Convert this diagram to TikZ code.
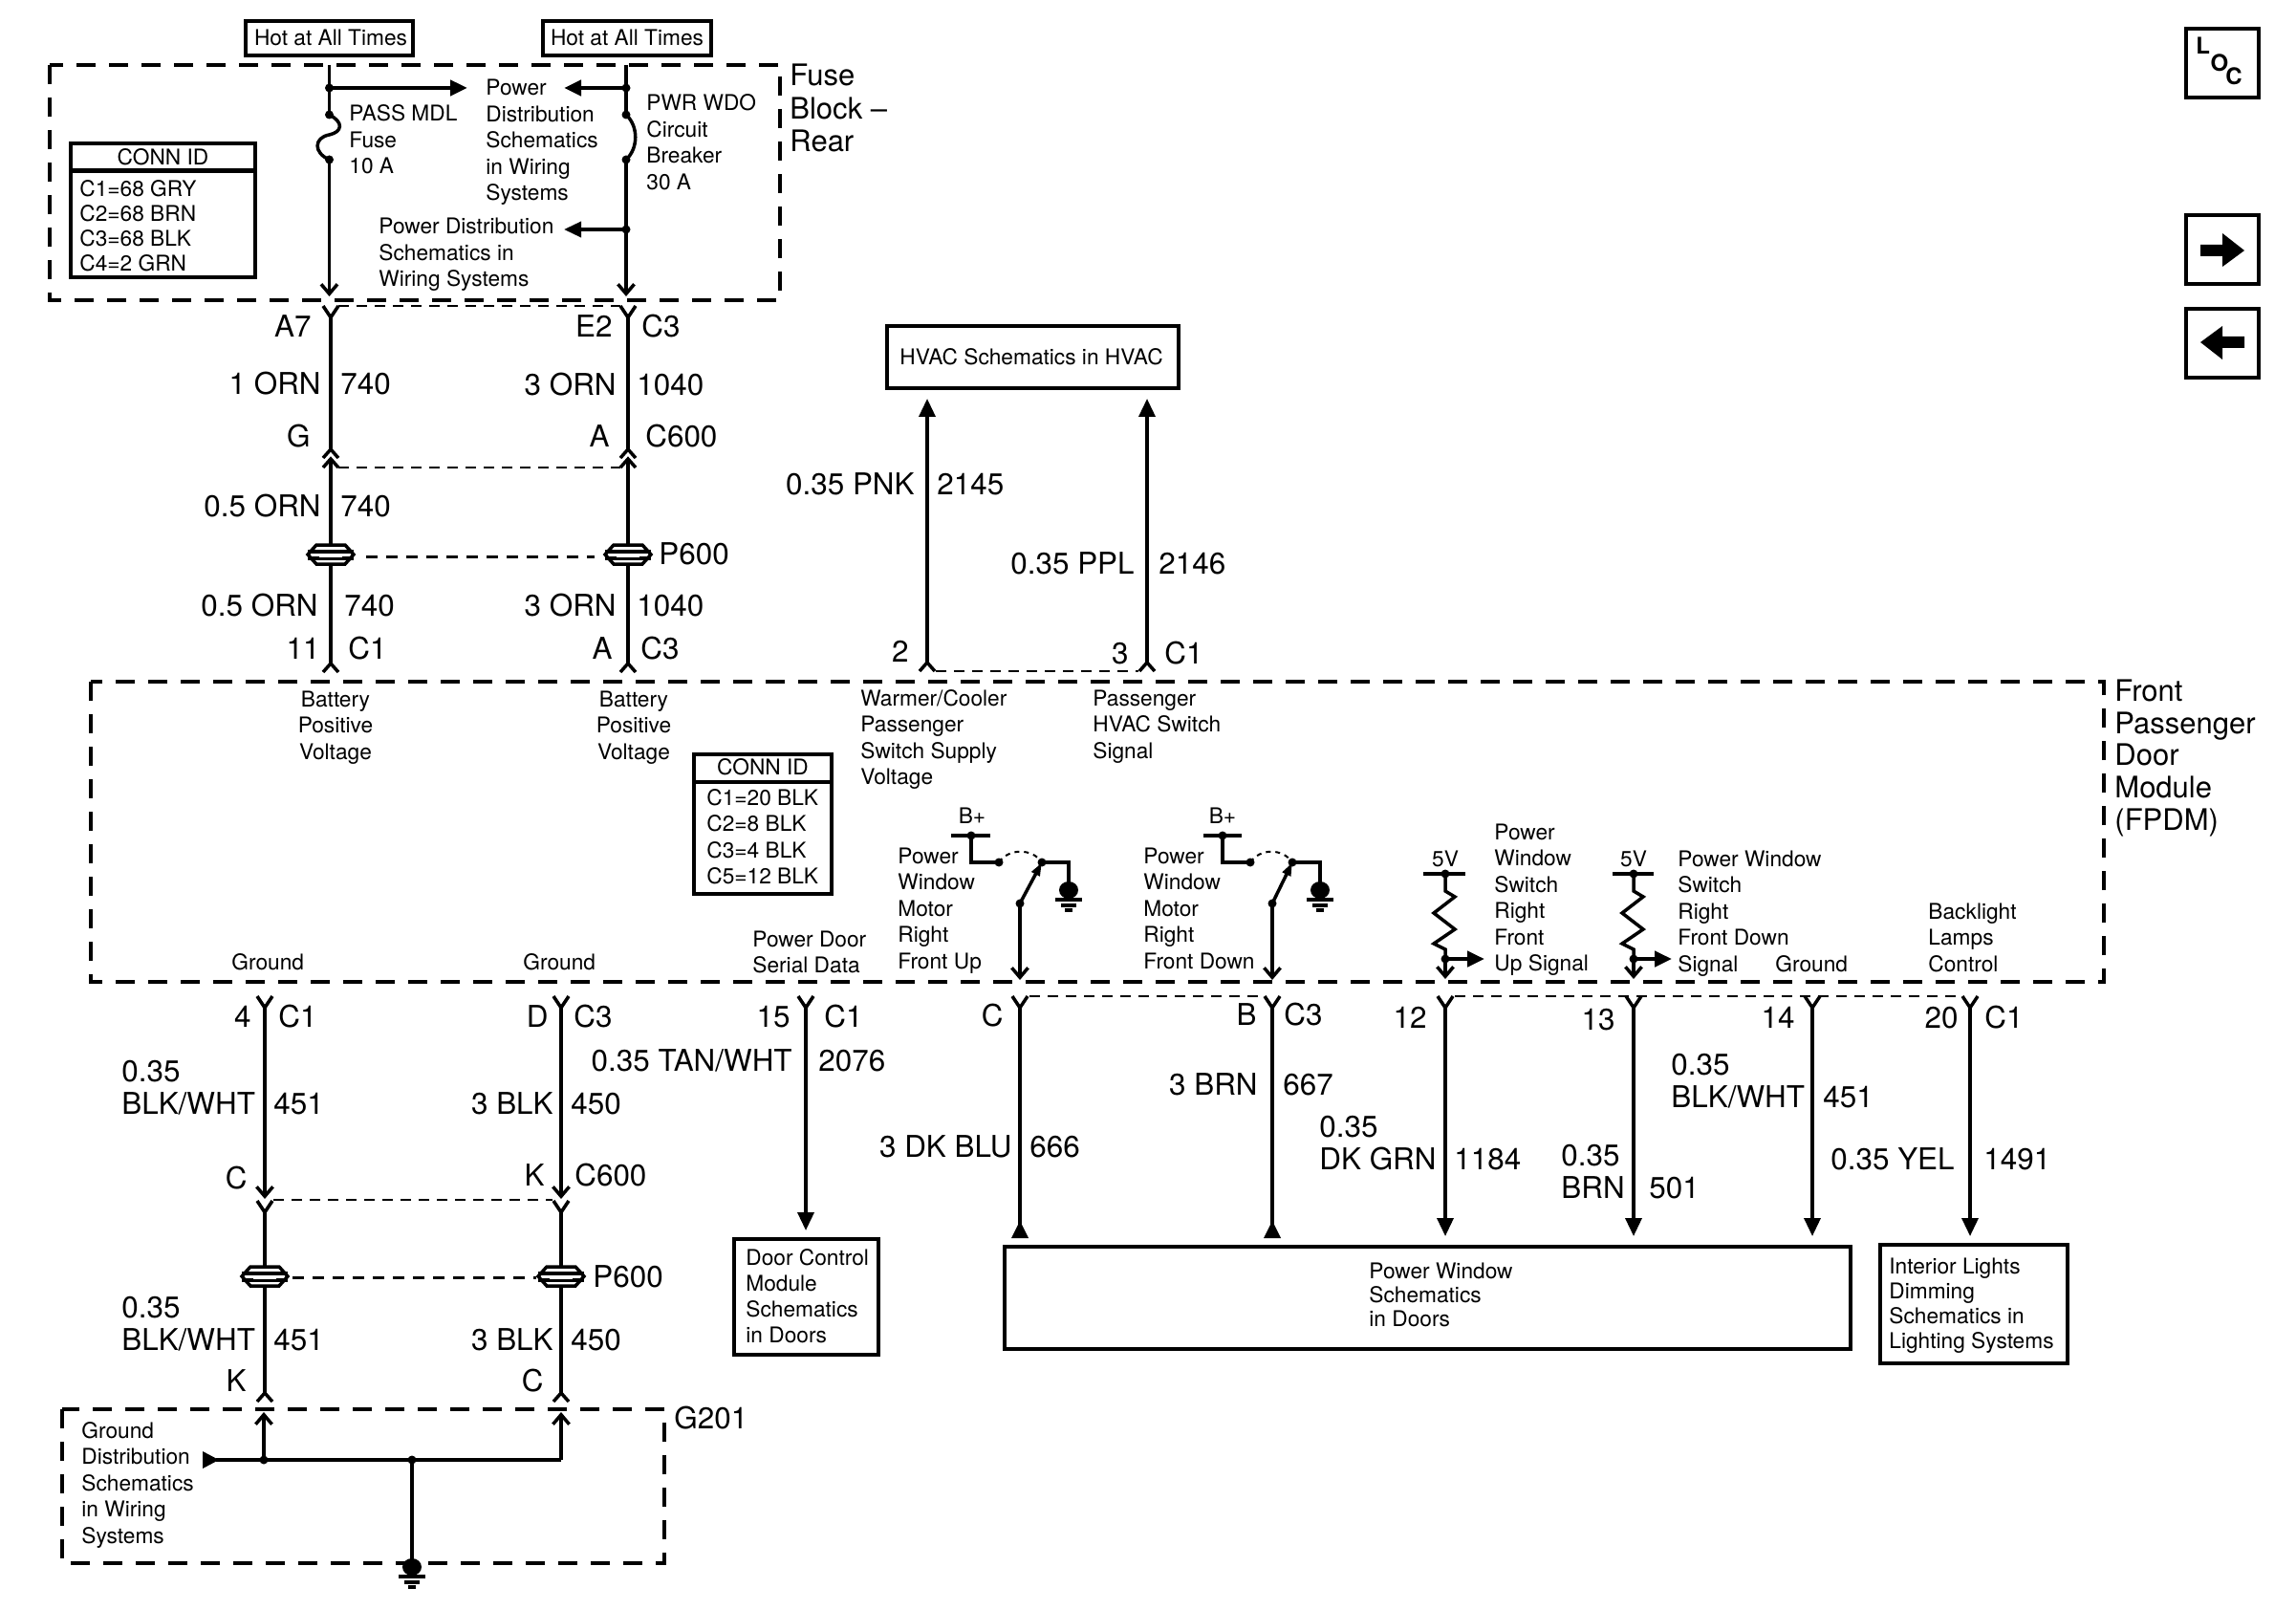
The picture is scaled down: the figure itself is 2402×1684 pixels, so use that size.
\documentclass[tikz,border=0pt]{standalone}
\usepackage{fontspec}
\setmainfont{TeX Gyre Heros}
\usetikzlibrary{arrows.meta}
\newcommand\LL[1]{\begin{tabular}[t]{@{}l@{}}#1\end{tabular}}
\newcommand\CC[1]{\begin{tabular}[t]{@{}c@{}}#1\end{tabular}}
\tikzset{
  x=0.5pt,y=-0.5pt,
  wire/.style={line width=1.75pt,line join=miter},
  wireb/.style={line width=2.25pt},
  box/.style={line width=2.25pt,draw=black},
  module/.style={line width=2.4pt,dash pattern=on 10pt off 7pt},
  link/.style={line width=1.1pt,dash pattern=on 5.5pt off 4pt},
  plink/.style={line width=1.5pt,dash pattern=on 6pt off 4.5pt},
  arc/.style={line width=1pt,dash pattern=on 2.5pt off 2.5pt},
  sm/.style={inner sep=0pt,font=\fontsize{11.35}{13.75}\selectfont,anchor=base west},
  smc/.style={sm,anchor=base},
  smt/.style={inner sep=0pt,font=\fontsize{11.35}{12.6}\selectfont,anchor=base west},
  lg/.style={inner sep=0pt,font=\fontsize{15.7}{17}\selectfont,anchor=base west},
  lgr/.style={lg,anchor=base east},
  lgx/.style={inner sep=0pt,font=\fontsize{15.5}{17}\selectfont,anchor=base west},
  dot/.style={circle,fill=black,inner sep=0pt,minimum size=4.5pt},
  barb/.style={-{Straight Barb[length=5pt,width=8.5pt]}},
  tri/.style={-{Triangle[length=9pt,width=8pt]}},
  trib/.style={-{Triangle[length=9.5pt,width=8.5pt]}},
  fork/.pic={\draw[wire] (-8,0)--(0,12)--(8,0);},
  hat/.pic={\draw[wire] (-8,9)--(0,0)--(8,9);},
  plug/.pic={
    \draw[wire,fill=white] (-24,0)--(-15,-10)--(15,-10)--(24,0)--(15,10)--(-15,10)--cycle;
    \draw[wire,line width=1.9pt] (-24,-3)--(24,-3) (-24,4)--(24,4);
    \fill[white] (-12,-1.5) rectangle (12,2.5);},
  gnd/.pic={
    \fill (0,0) ellipse [x radius=10,y radius=9];
    \draw[wire] (-14,10)--(14,10) (-8,16)--(8,16) (-4,21)--(4,21);}
}
\begin{document}
\begin{tikzpicture}
\useasboundingbox (0,0) rectangle (2402,1684);
% ---- boxes
\draw[box] (257,22) rectangle (432,58);
\draw[box] (568,22) rectangle (744,58);
\node[smc] (hot1) at (346,48) {Hot at All Times};
\node[smc] (hot2) at (656,48) {Hot at All Times};
\draw[module] (52,68) rectangle (816,314);
\draw[module] (95,713) rectangle (2201,1027);
\draw[module] (65,1474) rectangle (695,1635);
\node[lgx] (fb) at (826,90) {Fuse};
\node[lgx] (fb2) at (826,125) {Block –};
\node[lgx] (fb3) at (826,159) {Rear};
\node[lgx] (fp1) at (2212,733) {Front};
\node[lgx] (fp2) at (2212,767) {Passenger};
\node[lgx] (fp3) at (2212,800) {Door};
\node[lgx] (fp4) at (2212,834) {Module};
\node[lgx] (fp5) at (2212,868) {(FPDM)};
% conn id 1
\draw[box] (74,150) rectangle (267,290);
\draw[box] (74,178.5) -- (267,178.5);
\node[smc] (cid1) at (170.5,173) {CONN ID};
\node[sm] (c11) at (83,206) {C1=68 GRY};
\node[sm] (c12) at (83,232) {C2=68 BRN};
\node[sm] (c13) at (83,258) {C3=68 BLK};
\node[sm] (c14) at (83,284) {C4=2 GRN};
% conn id 2
\draw[box] (726,789) rectangle (870,935);
\draw[box] (726,818) -- (870,818);
\node[smc] (cid2) at (798,810) {CONN ID};
\node[sm] (c21) at (739,842) {C1=20 BLK};
\node[sm] (c22) at (739,869) {C2=8 BLK};
\node[sm] (c23) at (739,897) {C3=4 BLK};
\node[sm] (c24) at (739,924) {C5=12 BLK};
% fuse block wires
\coordinate (f1t) at (344.5,68); \coordinate (f1e) at (344.5,310);
\coordinate (f2t) at (655,68);   \coordinate (f2e) at (655,310);
\node[dot] (d1) at (344.5,92) {};
\node[dot] (d2) at (344.5,120) {};
\node[dot] (d3) at (344.5,167) {};
\node[dot] (d4) at (655,92) {};
\node[dot] (d5) at (655,120) {};
\node[dot] (d6) at (655,167) {};
\node[dot] (d7) at (655,240) {};
\coordinate (a1) at (489,92); \coordinate (a2) at (590,92); \coordinate (a3) at (590,240);
\draw[wire] (f1t)--(d2.center);
\draw[wire,barb] (d3.center)--(f1e);
\draw[wire] (f2t)--(d5.center);
\draw[wire,barb] (d6.center)--(f2e);
\draw[wireb,tri] (d1.center)--(a1);
\draw[wireb,tri] (d4.center)--(a2);
\draw[wire,tri] (d7.center)--(a3);
\draw[wire] (d2.center) .. controls (360,128) and (358,138) .. (344.5,141) .. controls (328,144) and (328,160) .. (d3.center);
\draw[wire] (d5.center) .. controls (668,132) and (668,155) .. (d6.center);
\node[sm] (t1) at (365,127) {\LL{PASS MDL\\Fuse\\10 A}};
\node[sm] (t2) at (508,100) {\LL{Power\\Distribution\\Schematics\\in Wiring\\Systems}};
\node[sm] (t3) at (676,116) {\LL{PWR WDO\\Circuit\\Breaker\\30 A}};
\node[sm] (t4) at (396,245) {\LL{Power Distribution\\Schematics in\\Wiring Systems}};
% --- upper harness
\pic at (346,320) {fork};
\pic at (657,320) {fork};
\pic at (346,470) {hat};
\pic at (657,470) {hat};
\pic at (346,480) {hat};
\pic at (657,480) {hat};
\coordinate (l1a) at (354,320); \coordinate (l1b) at (649,320);
\coordinate (l2a) at (354,489); \coordinate (l2b) at (649,489);
\draw[link] (l1a)--(l1b);
\draw[link] (l2a)--(l2b);
\coordinate (u1a) at (346,332); \coordinate (u1b) at (346,470);
\coordinate (u2a) at (657,332); \coordinate (u2b) at (657,470);
\draw[wire] (u1a)--(u1b);
\draw[wire] (u2a)--(u2b);
\coordinate (pL) at (346,580); \coordinate (pR) at (657,580);
\coordinate (b1) at (346,694); \coordinate (b2) at (657,694);
\coordinate (h1) at (346,480); \coordinate (h2) at (657,480);
\draw[wire] (h1)--(pL)--(b1);
\draw[wire] (h2)--(pR)--(b2);
\pic at (pL) {plug};
\pic at (pR) {plug};
\coordinate (pd1) at (383,582); \coordinate (pd2) at (622,582);
\draw[plink] (pd1)--(pd2);
\pic at (b1) {hat};
\pic at (b2) {hat};
\node[lgr] (l1) at (326,353) {A7};
\node[lgr] (l2) at (641,353) {E2};
\node[lg] (l3) at (671,353) {C3};
\node[lgr] (l4) at (336,413) {1 ORN};
\node[lg] (l5) at (356,413) {740};
\node[lgr] (l6) at (645,414) {3 ORN};
\node[lg] (l7) at (666,414) {1040};
\node[lgr] (l8) at (325,468) {G};
\node[lgr] (l9) at (638,468) {A};
\node[lg] (l10) at (675,468) {C600};
\node[lgr] (l11) at (336,540) {0.5 ORN};
\node[lg] (l12) at (356,540) {740};
\node[lg] (l13) at (689,590) {P600};
\node[lgr] (l14) at (333,644) {0.5 ORN};
\node[lg] (l15) at (360,644) {740};
\node[lgr] (l16) at (645,644) {3 ORN};
\node[lg] (l17) at (666,644) {1040};
\node[lgr] (l18) at (335,689) {11};
\node[lg] (l19) at (364,689) {C1};
\node[lgr] (l20) at (641,689) {A};
\node[lg] (l21) at (670,689) {C3};
% --- HVAC
\draw[box] (928,341) rectangle (1233,406);
\node[smc] (hv) at (1079,382) {HVAC Schematics in HVAC};
\coordinate (hA) at (970,417); \coordinate (hB) at (1200,417);
\coordinate (hC) at (970,693); \coordinate (hD) at (1200,693);
\draw[wire,trib] (hC)--(hA);
\draw[wire,trib] (hD)--(hB);
\pic at (hC) {hat};
\pic at (hD) {hat};
\coordinate (hl1) at (979,702); \coordinate (hl2) at (1191,702);
\draw[link] (hl1)--(hl2);
\node[lgr] (h1l) at (957,517) {0.35 PNK};
\node[lg] (h2l) at (980,517) {2145};
\node[lgr] (h3l) at (1187,600) {0.35 PPL};
\node[lg] (h4l) at (1212,600) {2146};
\node[lgr] (h5l) at (951,692) {2};
\node[lgr] (h6l) at (1181,694) {3};
\node[lg] (h7l) at (1218,694) {C1};
% --- module labels
\node[smc] (m1) at (351,739) {\CC{Battery\\Positive\\Voltage}};
\node[smc] (m2) at (663,739) {\CC{Battery\\Positive\\Voltage}};
\node[sm] (m3) at (900,738) {\LL{Warmer/Cooler\\Passenger\\Switch Supply\\Voltage}};
\node[sm] (m4) at (1143,738) {\LL{Passenger\\HVAC Switch\\Signal}};
\node[sm] (m5) at (939,903) {\LL{Power\\Window\\Motor\\Right\\Front Up}};
\node[sm] (m6) at (1196,903) {\LL{Power\\Window\\Motor\\Right\\Front Down}};
\node[sm] (m7) at (1563,878) {\LL{Power\\Window\\Switch\\Right\\Front\\Up Signal}};
\node[sm] (m8) at (1755,906) {\LL{Power Window\\Switch\\Right\\Front Down\\Signal}};
\node[sm] (m9) at (2017,961) {\LL{Backlight\\Lamps\\Control}};
\node[sm] (g1) at (242,1014) {Ground};
\node[sm] (g2) at (547,1014) {Ground};
\node[sm] (g3) at (1857,1016) {Ground};
\node[sm] (m10) at (787,990) {\LL{Power Door\\Serial Data}};
% --- switches
\node[smc] (bp1) at (1017,861) {B+};
\node[smc] (bp2) at (1279,861) {B+};
\coordinate (s1a) at (995,874); \coordinate (s1b) at (1036,874);
\coordinate (s2a) at (1259,874); \coordinate (s2b) at (1299,874);
\draw[wireb] (s1a)--(s1b);
\draw[wireb] (s2a)--(s2b);
\node[dot] (s1t) at (1016,874) {};
\node[dot] (s2t) at (1279,874) {};
\node[dot] (s1l) at (1045,902) {};
\node[dot] (s1r) at (1090,902) {};
\node[dot] (s2l) at (1308,902) {};
\node[dot] (s2r) at (1352,902) {};
\node[dot] (s1m) at (1067,945) {};
\node[dot] (s2m) at (1331,945) {};
\coordinate (s1g) at (1118,931); \coordinate (s2g) at (1381,931);
\coordinate (s1e) at (1067,1025); \coordinate (s2e) at (1331,1025);
\draw[wire] (s1t.center)|-(s1l.center);
\draw[wire] (s2t.center)|-(s2l.center);
\draw[wire] (s1r.center)-|(s1g);
\draw[wire] (s2r.center)-|(s2g);
\draw[arc] (s1l.center) .. controls (1055,887) and (1080,887) .. (s1r.center);
\draw[arc] (s2l.center) .. controls (1318,887) and (1342,887) .. (s2r.center);
\draw[wire,-{Triangle[length=7pt,width=4.5pt]}] (s1m.center)--(s1r.center);
\draw[wire,-{Triangle[length=7pt,width=4.5pt]}] (s2m.center)--(s2r.center);
\draw[wire,barb] (s1m.center)--(s1e);
\draw[wire,barb] (s2m.center)--(s2e);
\pic at (s1g) {gnd};
\pic at (s2g) {gnd};
% --- pull-ups
\node[smc] (v1) at (1512,906) {5V};
\node[smc] (v2) at (1709,906) {5V};
\coordinate (r1a) at (1489,914); \coordinate (r1b) at (1533,914);
\coordinate (r2a) at (1687,914); \coordinate (r2b) at (1730,914);
\draw[wireb] (r1a)--(r1b);
\draw[wireb] (r2a)--(r2b);
\node[dot] (r1t) at (1512,914) {};
\node[dot] (r2t) at (1709,914) {};
\node[dot] (r1d) at (1512,1003) {};
\node[dot] (r2d) at (1709,1003) {};
\draw[wire] (r1t.center)--(1512,932)--(1522,938)--(1500,955)--(1522,972)--(1500,987)--(1512,993)--(r1d.center);
\draw[wire] (r2t.center)--(1709,932)--(1719,938)--(1697,955)--(1719,972)--(1697,987)--(1709,993)--(r2d.center);
\coordinate (r1e) at (1512,1024); \coordinate (r2e) at (1709,1024);
\coordinate (r1o) at (1553,1003); \coordinate (r2o) at (1749,1003);
\draw[wire,barb] (r1d.center)--(r1e);
\draw[wire,barb] (r2d.center)--(r2e);
\draw[wireb,tri] (r1d.center)--(r1o);
\draw[wireb,tri] (r2d.center)--(r2o);
% --- lower connectors
\foreach \xx in {277,587,843,1067,1331,1512,1709,1896,2061}{\pic at (\xx,1042) {fork};}
\coordinate (q1) at (1077,1042); \coordinate (q2) at (1321,1042);
\coordinate (q3) at (1522,1042); \coordinate (q4) at (2051,1042);
\draw[link] (q1)--(q2);
\draw[link] (q3)--(q4);
% left harness
\coordinate (wa1) at (277,1054); \coordinate (wa2) at (277,1254);
\coordinate (wb1) at (587,1054); \coordinate (wb2) at (587,1254);
\draw[wire,barb] (wa1)--(wa2);
\draw[wire,barb] (wb1)--(wb2);
\pic at (277,1256) {fork};
\pic at (587,1256) {fork};
\coordinate (q5) at (286,1255); \coordinate (q6) at (578,1255);
\draw[link] (q5)--(q6);
\coordinate (pL2) at (277,1335); \coordinate (pR2) at (587,1335);
\coordinate (wa3) at (277,1268); \coordinate (wb3) at (587,1268);
\coordinate (wa4) at (277,1457); \coordinate (wb4) at (587,1457);
\draw[wire] (wa3)--(pL2)--(wa4);
\draw[wire] (wb3)--(pR2)--(wb4);
\pic at (pL2) {plug};
\pic at (pR2) {plug};
\coordinate (pd3) at (306,1336); \coordinate (pd4) at (561,1336);
\draw[plink] (pd3)--(pd4);
\pic at (wa4) {hat};
\pic at (wb4) {hat};
% G201
\node[dot] (gd1) at (276,1527) {};
\node[dot] (gd2) at (431,1527) {};
\coordinate (gc) at (587,1527);
\coordinate (gta) at (276,1477); \coordinate (gtb) at (587,1477);
\coordinate (gst) at (226,1527);
\coordinate (gg) at (431,1639);
\draw[wire,barb] (gd1.center)--(gta);
\draw[wire,barb] (gc)--(gtb);
\draw[wire] (gc)--(gst);
\fill (212,1518)--(229,1527)--(212,1536)--cycle;
\draw[wireb] (gd2.center)--(gg);
\pic at (gg) {gnd};
\node[sm] (g4) at (85,1504) {\LL{Ground\\Distribution\\Schematics\\in Wiring\\Systems}};
\node[lg] (g201) at (705,1494) {G201};
% --- lower labels
\node[lgr] (n1) at (263,1074) {4};
\node[lg] (n2) at (291,1074) {C1};
\node[lgr] (n3) at (574,1074) {D};
\node[lg] (n4) at (600,1074) {C3};
\node[lgr] (n5) at (827,1074) {15};
\node[lg] (n6) at (862,1074) {C1};
\node[lgr] (n7) at (1050,1073) {C};
\node[lgr] (n8) at (1315,1072) {B};
\node[lg] (n9) at (1343,1072) {C3};
\node[lgr] (n10) at (1493,1075) {12};
\node[lgr] (n11) at (1690,1077) {13};
\node[lgr] (n12) at (1878,1075) {14};
\node[lgr] (n13) at (2049,1075) {20};
\node[lg] (n14) at (2076,1075) {C1};
\node[lg] (n15) at (127,1131) {0.35};
\node[lg] (n16) at (127,1165) {BLK/WHT};
\node[lg] (n17) at (286,1165) {451};
\node[lgr] (n18) at (579,1165) {3 BLK};
\node[lg] (n19) at (597,1165) {450};
\node[lgr] (n20) at (829,1120) {0.35 TAN/WHT};
\node[lg] (n21) at (856,1120) {2076};
\node[lgr] (n22) at (1059,1210) {3 DK BLU};
\node[lg] (n23) at (1077,1210) {666};
\node[lgr] (n24) at (1316,1145) {3 BRN};
\node[lg] (n25) at (1342,1145) {667};
\node[lg] (n26) at (1380,1189) {0.35};
\node[lg] (n27) at (1380,1223) {DK GRN};
\node[lg] (n28) at (1521,1223) {1184};
\node[lg] (n29) at (1633,1219) {0.35};
\node[lg] (n30) at (1633,1253) {BRN};
\node[lg] (n31) at (1725,1253) {501};
\node[lg] (n32) at (1748,1124) {0.35};
\node[lg] (n33) at (1748,1158) {BLK/WHT};
\node[lg] (n34) at (1907,1158) {451};
\node[lgr] (n35) at (2045,1223) {0.35 YEL};
\node[lg] (n36) at (2075,1223) {1491};
\node[lg] (n37) at (127,1378) {0.35};
\node[lg] (n38) at (127,1412) {BLK/WHT};
\node[lg] (n39) at (286,1412) {451};
\node[lgr] (n40) at (579,1412) {3 BLK};
\node[lg] (n41) at (597,1412) {450};
\node[lgr] (n42) at (258,1455) {K};
\node[lgr] (n43) at (569,1455) {C};
\node[lgr] (n44) at (259,1243) {C};
\node[lgr] (n45) at (570,1240) {K};
\node[lg] (n46) at (601,1240) {C600};
\node[lg] (n47) at (620,1346) {P600};
% --- lower boxes
\draw[box] (768,1296) rectangle (919,1417);
\node[smt,font=\fontsize{11.35}{13.5}\selectfont] (bx1) at (780,1323) {\LL{Door Control\\Module\\Schematics\\in Doors}};
\draw[box] (1051,1304) rectangle (1936,1411);
\node[smt] (bx2) at (1432,1337) {\LL{Power Window\\Schematics\\in Doors}};
\draw[box] (1967,1302) rectangle (2163,1426);
\node[smt,font=\fontsize{11.35}{13}\selectfont] (bx3) at (1976,1332) {\LL{Interior Lights\\Dimming\\Schematics in\\Lighting Systems}};
\coordinate (w15a) at (843,1054); \coordinate (w15b) at (843,1287);
\draw[wire,trib] (w15a)--(w15b);
\coordinate (wCa) at (1067,1054); \coordinate (wCb) at (1067,1295); \coordinate (wCc) at (1067,1277);
\coordinate (wBa) at (1331,1054); \coordinate (wBb) at (1331,1295); \coordinate (wBc) at (1331,1277);
\draw[wire] (wCa)--(wCb);
\draw[wire] (wBa)--(wBb);
\fill (1058,1295)--(wCc)--(1076,1295)--cycle;
\fill (1322,1295)--(wBc)--(1340,1295)--cycle;
\coordinate (w12a) at (1512,1054); \coordinate (w12b) at (1512,1293);
\coordinate (w13a) at (1709,1054); \coordinate (w13b) at (1709,1293);
\coordinate (w14a) at (1896,1054); \coordinate (w14b) at (1896,1293);
\coordinate (w20a) at (2061,1054); \coordinate (w20b) at (2061,1293);
\draw[wire,trib] (w12a)--(w12b);
\draw[wire,trib] (w13a)--(w13b);
\draw[wire,trib] (w14a)--(w14b);
\draw[wire,trib] (w20a)--(w20b);
% --- icons
\draw[box] (2287,30) rectangle (2363,102);
\draw[box] (2287,225) rectangle (2363,297);
\draw[box] (2287,323) rectangle (2363,395);
\node[sm,font=\fontsize{12}{14}\bfseries\selectfont] (lL) at (2297,57) {L};
\node[sm,anchor=center,font=\fontsize{12}{14}\bfseries\selectfont] (lO) at (2322,66) {O};
\node[sm,anchor=center,font=\fontsize{12}{14}\bfseries\selectfont] (lC) at (2337,80) {C};
\fill (2302,256)--(2325,256)--(2325,244)--(2348,262)--(2325,279)--(2325,268)--(2302,268)--cycle;
\fill (2348,352)--(2325,352)--(2325,341)--(2302,358)--(2325,376)--(2325,364)--(2348,364)--cycle;
\end{tikzpicture}
\end{document}
